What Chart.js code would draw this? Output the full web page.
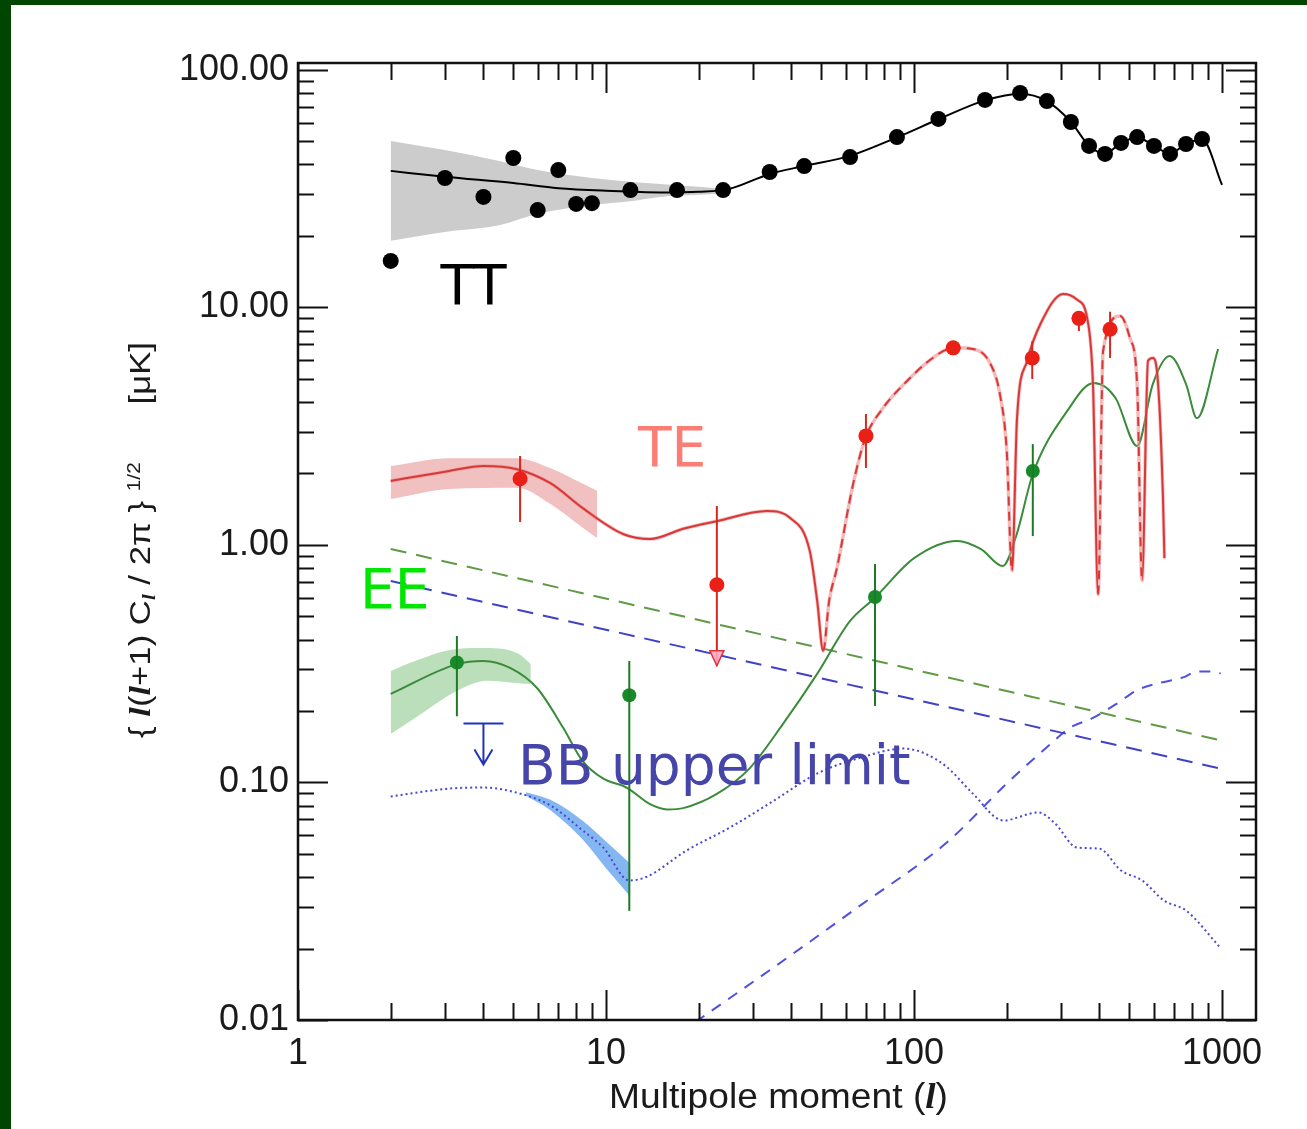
<!DOCTYPE html>
<html>
<head>
<meta charset="utf-8">
<script src="https://cdn.jsdelivr.net/npm/chart.js@4.4.1/dist/chart.umd.min.js"></script>
<style>
    html, body { margin: 0; padding: 0; background: #fff; }
    #contenedor { position: relative; width: 1307px; height: 1129px; }
    #grafica { position: absolute; left: 0; top: 0; }
    .borde { position: absolute; background: #004600; }
</style>
</head>
<body>
<div id="contenedor">
    <canvas id="grafica" width="1307" height="1129"></canvas>
    <div class="borde" style="left:0;top:0;width:1307px;height:5px"></div>
    <div class="borde" style="left:0;top:0;width:11px;height:1129px"></div>
</div>
<script>
// ejes
const xTicks = [1, 10, 100, 1000];
const yTicks = [0.01, 0.1, 1, 10, 100];

// TT: datos y modelo
const ttL = [2, 3, 4, 5, 6, 7, 8, 9, 12, 17, 24, 34, 44, 62, 88, 120, 170, 221, 270, 323, 370, 417, 470, 530, 601, 678, 764, 861];
const ttV = [15.7, 35.1, 29.2, 42.6, 25.7, 37.9, 27.3, 27.5, 31.2, 31.2, 31.2, 37.2, 39.4, 43.0, 52.2, 62.2, 74.8, 80.0, 74.0, 60.4, 47.9, 44.3, 49.3, 52.2, 47.9, 44.3, 48.8, 51.2];
const ttModeloL = [2, 3, 5, 7, 10, 15, 20, 25, 34, 44, 62, 88, 120, 170, 221, 270, 323, 370, 417, 470, 530, 601, 678, 764, 861, 1000];
const ttModeloV = [37.6, 35.5, 33.4, 31.8, 31.0, 30.5, 30.7, 31.5, 36.5, 39.4, 43.5, 52, 62, 74.5, 79.5, 74, 60.5, 48, 44.5, 49.3, 52, 48, 44.5, 48.8, 51.2, 32.8];
const ttBandaL = [2, 3, 4.5, 6, 9, 12, 15, 20, 25];
const ttBandaHi = [50.2, 46.0, 41.4, 37.9, 35.1, 33.8, 33.1, 32.2, 31.5];
const ttBandaLo = [19.1, 20.8, 22.2, 24.8, 27.0, 28.0, 29.2, 29.8, 30.3];

// TE
const teL = [5.26, 22.9, 69.8, 134, 242, 343, 433];
const teV = [1.90, 0.68, 2.88, 6.76, 6.13, 9.0, 8.1];
const teHi = [2.37, 1.46, 3.56, 7.2, 7.2, 9.6, 9.6];
const teLo = [1.25, 0.31, 2.11, 6.3, 5.0, 7.96, 6.13];
const teFlecha = [0, 1, 0, 0, 0, 0, 0];
const teModeloL = [2, 3.1, 4, 5.1, 6.6, 8.4, 11.4, 13.9, 17.8, 22.9, 33.3, 39.6, 45.9, 48.5, 50.7,
    53, 56.2, 63.4, 69.5, 79.3, 94.9, 115, 134, 155, 177, 190, 200, 208,
    216, 233, 257, 305, 338, 365, 381, 396,
    411, 467, 502, 530, 550,
    575, 597, 620, 643, 650];
const teModeloV = [1.86, 2.05, 2.15, 2.09, 1.82, 1.43, 1.11, 1.06, 1.17, 1.26, 1.39, 1.30, 0.94, 0.58, 0.358,
    0.58, 0.80, 1.80, 2.82, 3.77, 4.90, 6.13, 6.76, 6.69, 5.79, 4.32, 2.49, 0.78,
    3.43, 5.96, 8.5, 11.4, 10.8, 9.0, 4.76, 0.62,
    6.56, 9.2, 7.45, 4.76, 0.71,
    5.96, 6.13, 4.76, 1.58, 0.88];
// signo del TE (negativo = linea discontinua)
const teSigno = [1, 1, 1, 1, 1, 1, 1, 1, 1, 1, 1, 1, 1, 1, 0,
    -1, -1, -1, -1, -1, -1, -1, -1, -1, -1, -1, -1, 0,
    1, 1, 1, 1, 1, 1, 1, 0,
    -1, -1, -1, -1, 0,
    1, 1, 1, 1, 1];
const teBandaL = [2, 3.11, 5.14, 6.58, 8.42, 9.35];
const teBandaHi = [2.15, 2.32, 2.32, 2.11, 1.81, 1.69];
const teBandaLo = [1.56, 1.72, 1.74, 1.49, 1.18, 1.07];

// EE
const eeL = [3.28, 11.9, 74.7, 243];
const eeV = [0.32, 0.233, 0.604, 2.05];
const eeHi = [0.414, 0.325, 0.832, 2.66];
const eeLo = [0.19, 0.0288, 0.21, 1.09];
const eeModeloL = [2, 3.28, 4, 4.9, 5.97, 7.26, 8.4, 9.77, 11.7, 13.9, 15.8, 17.8, 22.9, 29.3, 37.5, 48.4, 62, 74.7, 100, 138, 165, 194, 215, 243, 314, 383, 451, 530, 596, 675, 764, 829, 971];
const eeModeloV = [0.236, 0.315, 0.325, 0.303, 0.25, 0.17, 0.123, 0.104, 0.095, 0.081, 0.077, 0.078, 0.0895, 0.115, 0.176, 0.286, 0.479, 0.60, 0.88, 1.04, 0.96, 0.816, 1.1, 1.99, 3.66, 4.81, 4.16, 2.61, 4.76, 6.25, 4.76, 3.42, 6.69];
const eeBandaL = [2, 2.4, 3.28, 4.1, 5.2, 5.7];
const eeBandaHi = [0.295, 0.325, 0.365, 0.368, 0.348, 0.315];
const eeBandaLo = [0.16, 0.187, 0.243, 0.268, 0.262, 0.26];

// BB
const bbModeloL = [2, 3.1, 4, 5.1, 6.6, 8.4, 9.8, 11.9, 13.5, 18.3, 25.3, 35.1, 48.4, 66.8, 92.8, 109, 128, 155, 195, 253, 287, 338, 399, 470, 550, 649, 764, 986];
const bbModeloV = [0.0873, 0.0943, 0.0952, 0.0908, 0.080, 0.0628, 0.0532, 0.0387, 0.040, 0.0518, 0.0647, 0.0839, 0.109, 0.127, 0.139, 0.132, 0.116, 0.090, 0.0692, 0.0748, 0.0672, 0.0532, 0.0527, 0.0426, 0.0387, 0.0318, 0.0289, 0.0202];
const bbBandaL = [5.5, 6.6, 8.4, 10, 12];
const bbBandaHi = [0.091, 0.0845, 0.069, 0.0565, 0.0455];
const bbBandaLo = [0.088, 0.0765, 0.0575, 0.0435, 0.033];
const bbLimiteL = [4];
const bbLimiteV = [0.177];
const bbLimitePunta = [0.119];

// primeros planos (rectas discontinuas) y lensing
const fgL = [2, 1000];
const fgVerdeV = [0.962, 0.150];
const fgAzulV = [0.705, 0.114];
const lensL = [19.5, 34.9, 66.8, 128, 200, 277, 321, 381, 456, 530, 615, 747, 829, 913, 990];
const lensV = [0.0098, 0.0166, 0.0303, 0.056, 0.099, 0.145, 0.170, 0.187, 0.215, 0.245, 0.261, 0.277, 0.293, 0.293, 0.288];

// etiquetas de texto
const etiquetas = [
    { texto: 'TT', l: 2.9, v: 10.3, color: '#000000' },
    { texto: 'TE', l: 12.7, v: 2.15, color: '#fb7d74' },
    { texto: 'EE', l: 1.59, v: 0.543, color: '#00e600' },
    { texto: 'BB upper limit', l: 5.18, v: 0.099, color: '#4646aa' }
];

function pares(L, V) {
    return L.map((l, i) => ({ x: l, y: V[i] }));
}

function linea(L, V, color, ancho, dash, extra) {
    return Object.assign({
        data: pares(L, V),
        borderColor: color,
        borderWidth: ancho,
        borderDash: dash || [],
        pointRadius: 0,
        fill: false,
        cubicInterpolationMode: 'monotone'
    }, extra || {});
}

function puntos(L, V, color, radio) {
    return {
        data: pares(L, V),
        showLine: false,
        pointRadius: radio,
        pointBackgroundColor: color,
        pointBorderColor: color,
        pointBorderWidth: 0
    };
}

function banda(L, V, color, relleno) {
    return {
        data: pares(L, V),
        borderWidth: 0,
        borderColor: color,
        backgroundColor: color,
        pointRadius: 0,
        fill: relleno,
        cubicInterpolationMode: 'monotone'
    };
}

function barrasError(ctx, xs, ys, L, lo, hi, color) {
    ctx.save();
    ctx.strokeStyle = color;
    ctx.lineWidth = 2;
    for (let i = 0; i < L.length; i++) {
        const px = xs.getPixelForValue(L[i]);
        ctx.beginPath();
        ctx.moveTo(px, ys.getPixelForValue(hi[i]));
        ctx.lineTo(px, ys.getPixelForValue(lo[i]));
        ctx.stroke();
    }
    ctx.restore();
}

function textoPiezas(ctx, piezas, largo) {
    let total = 0;
    piezas.forEach(p => { ctx.font = p.font; p.w = ctx.measureText(p.t).width; total += p.w; });
    ctx.scale(largo / total, 1);
    let x = 0;
    piezas.forEach(p => {
        ctx.font = p.font;
        ctx.fillText(p.t, x, p.dy || 0);
        x += p.w;
    });
}

const pluginEjes = {
    id: 'ejes',
    afterDatasetsDraw(chart) {
        const ctx = chart.ctx;
        const xs = chart.scales.x, ys = chart.scales.y;

        barrasError(ctx, xs, ys, teL, teLo, teHi, '#d8281e');
        barrasError(ctx, xs, ys, eeL, eeLo, eeHi, '#1f7a25');

        // flecha del TE (limite)
        ctx.save();
        for (let i = 0; i < teL.length; i++) {
            if (!teFlecha[i]) continue;
            const px = xs.getPixelForValue(teL[i]);
            const py = ys.getPixelForValue(teLo[i]);
            ctx.beginPath();
            ctx.moveTo(px, py);
            ctx.lineTo(px - 7, py - 15);
            ctx.lineTo(px + 7, py - 15);
            ctx.closePath();
            ctx.fillStyle = 'rgba(255,170,190,0.9)';
            ctx.fill();
            ctx.strokeStyle = '#e0303a';
            ctx.lineWidth = 1.5;
            ctx.stroke();
        }
        ctx.restore();

        // limite superior BB
        ctx.save();
        ctx.strokeStyle = '#2233bb';
        ctx.lineWidth = 2;
        for (let i = 0; i < bbLimiteL.length; i++) {
            const px = xs.getPixelForValue(bbLimiteL[i]);
            const py = ys.getPixelForValue(bbLimiteV[i]);
            const pt = ys.getPixelForValue(bbLimitePunta[i]);
            ctx.beginPath();
            ctx.moveTo(px - 20, py); ctx.lineTo(px + 20, py);
            ctx.moveTo(px, py); ctx.lineTo(px, pt);
            ctx.moveTo(px - 9, pt - 15); ctx.lineTo(px, pt); ctx.lineTo(px + 9, pt - 15);
            ctx.stroke();
        }
        ctx.restore();

        // etiquetas
        ctx.save();
        ctx.font = '55px "DejaVu Sans"';
        ctx.textAlign = 'left';
        ctx.textBaseline = 'alphabetic';
        etiquetas.forEach(e => {
            ctx.fillStyle = e.color;
            ctx.fillText(e.texto, xs.getPixelForValue(e.l), ys.getPixelForValue(e.v));
        });
        ctx.restore();
    },
    afterDraw(chart) {
        const ctx = chart.ctx;
        const a = chart.chartArea;
        const xs = chart.scales.x, ys = chart.scales.y;
        ctx.save();
        ctx.strokeStyle = '#111';
        ctx.lineWidth = 2;
        // marcas hacia dentro
        for (let d = 0; d <= 3; d++) {
            for (let k = 1; k <= 9; k++) {
                const v = k * Math.pow(10, d);
                if (v > xs.max) continue;
                const px = Math.round(xs.getPixelForValue(v)) + 0.5;
                const largo = k === 1 ? 30 : 17;
                ctx.beginPath();
                ctx.moveTo(px, a.bottom); ctx.lineTo(px, a.bottom - largo);
                ctx.moveTo(px, a.top); ctx.lineTo(px, a.top + largo);
                ctx.stroke();
            }
        }
        for (let d = -2; d <= 2; d++) {
            for (let k = 1; k <= 9; k++) {
                const v = k * Math.pow(10, d);
                if (v > ys.max) continue;
                const py = Math.round(ys.getPixelForValue(v)) + 0.5;
                const largo = k === 1 ? 30 : 16;
                ctx.beginPath();
                ctx.moveTo(a.left, py); ctx.lineTo(a.left + largo, py);
                ctx.moveTo(a.right, py); ctx.lineTo(a.right - largo, py);
                ctx.stroke();
            }
        }
        ctx.lineWidth = 2.5;
        ctx.strokeRect(a.left, a.top, a.right - a.left, a.bottom - a.top);
        ctx.restore();

        // titulo eje x
        ctx.save();
        ctx.fillStyle = '#1a1a1a';
        ctx.textBaseline = 'alphabetic';
        ctx.translate(609, 1108);
        textoPiezas(ctx, [
            { t: 'Multipole moment (', font: '35px "Liberation Sans"' },
            { t: 'l', font: 'italic bold 35px "Liberation Serif"' },
            { t: ')', font: '35px "Liberation Sans"' }
        ], 339);
        ctx.restore();

        // titulo eje y
        ctx.save();
        ctx.fillStyle = '#1a1a1a';
        ctx.textBaseline = 'alphabetic';
        ctx.translate(150, 738);
        ctx.rotate(-Math.PI / 2);
        const fN = '30px "Liberation Sans"';
        const fI = 'italic bold 30px "Liberation Serif"';
        textoPiezas(ctx, [
            { t: '{ ', font: fN },
            { t: 'l', font: fI },
            { t: '(', font: fN },
            { t: 'l', font: fI },
            { t: '+1) C', font: fN },
            { t: 'l', font: 'italic bold 18px "Liberation Serif"', dy: 5 },
            { t: ' / 2π } ', font: fN },
            { t: '1/2', font: '18px "Liberation Sans"', dy: -10 },
            { t: '      [μK]', font: fN }
        ], 396);
        ctx.restore();
    }
};

const ctx = document.getElementById('grafica').getContext('2d');
const graficaCMB = new Chart(ctx, {
    type: 'line',
    data: {
        datasets: [
            puntos(ttL, ttV, '#000000', 8),
            puntos(teL, teV, '#ee1e14', 7.5),
            puntos(eeL, eeV, '#178a2a', 7),
            linea(ttModeloL, ttModeloV, '#000000', 2),
            linea(teModeloL, teModeloV, '#d83838', 2, [], {
                segment: {
                    borderDash: c => (teSigno[c.p0DataIndex] + teSigno[c.p1DataIndex] < 0) ? [9, 6] : undefined
                }
            }),
            linea(teModeloL, teModeloV, 'rgba(238,140,140,0.6)', 3.5),
            linea(eeModeloL, eeModeloV, '#3a8c3a', 2),
            linea(bbModeloL, bbModeloV, '#4848d2', 2, [2, 3]),
            linea(fgL, fgVerdeV, '#5f9a45', 2, [16, 10]),
            linea(fgL, fgAzulV, '#4040c8', 2, [16, 10]),
            linea(lensL, lensV, '#5050e0', 2, [11, 9]),
            banda(ttBandaL, ttBandaHi, '#cccccc', '+1'),
            banda(ttBandaL, ttBandaLo, '#cccccc', false),
            banda(teBandaL, teBandaHi, 'rgba(232,150,150,0.6)', '+1'),
            banda(teBandaL, teBandaLo, 'rgba(232,150,150,0)', false),
            banda(eeBandaL, eeBandaHi, 'rgba(150,205,150,0.65)', '+1'),
            banda(eeBandaL, eeBandaLo, 'rgba(150,205,150,0)', false),
            banda(bbBandaL, bbBandaHi, 'rgba(110,170,240,0.85)', '+1'),
            banda(bbBandaL, bbBandaLo, 'rgba(110,170,240,0)', false)
        ]
    },
    options: {
        responsive: false,
        animation: false,
        events: [],
        devicePixelRatio: 1,
        layout: { padding: { left: 0, right: 51, top: 63, bottom: 0 } },
        plugins: {
            legend: { display: false },
            tooltip: { enabled: false }
        },
        scales: {
            x: {
                type: 'logarithmic',
                min: 1,
                max: 1289,
                grid: { display: false, drawTicks: false },
                border: { display: false },
                ticks: {
                    padding: 12,
                    color: '#1a1a1a',
                    font: { family: '"Liberation Sans"', size: 36 },
                    maxRotation: 0,
                    callback: v => String(v)
                },
                afterBuildTicks: s => { s.ticks = xTicks.map(v => ({ value: v })); },
                afterFit: s => { s.height = 109; }
            },
            y: {
                type: 'logarithmic',
                min: 0.01,
                max: 107,
                grid: { display: false, drawTicks: false },
                border: { display: false },
                ticks: {
                    padding: 9,
                    color: '#1a1a1a',
                    font: { family: '"Liberation Sans"', size: 36 },
                    callback: v => Number(v).toFixed(2)
                },
                afterBuildTicks: s => { s.ticks = yTicks.map(v => ({ value: v })); },
                afterFit: s => { s.width = 298; }
            }
        }
    },
    plugins: [pluginEjes]
});
</script>
</body>
</html>
